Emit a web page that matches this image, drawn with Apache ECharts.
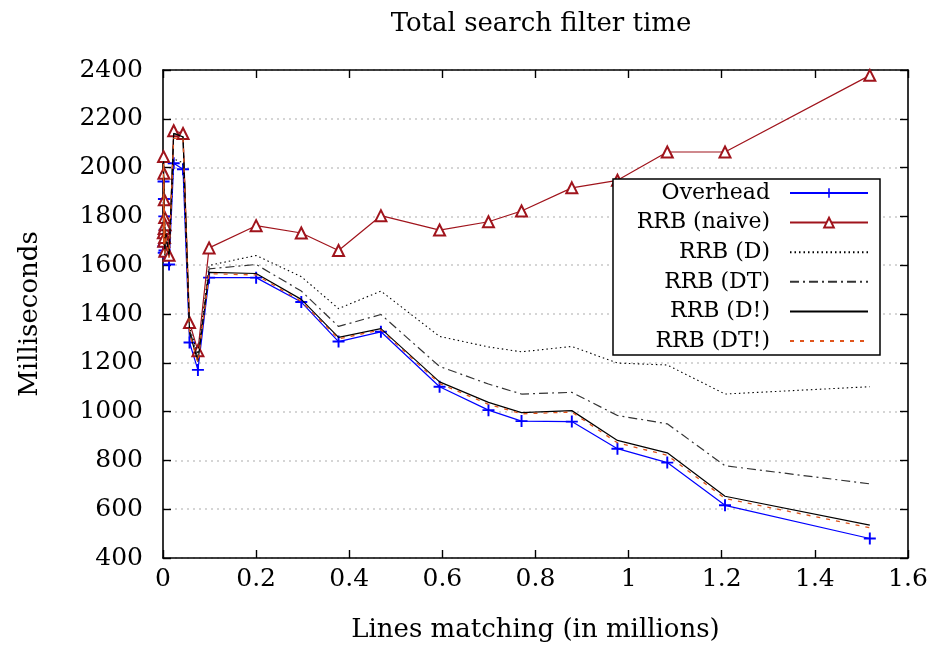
<!DOCTYPE html>
<html>
<head>
<meta charset="utf-8">
<script src="https://cdn.jsdelivr.net/npm/echarts@6/dist/echarts.min.js"></script>
<style>html,body{margin:0;padding:0;background:#fff}#c{width:938px;height:648px}</style>
</head>
<body>
<div id="c"></div>
<script>
// Lines matching (millions)
const xs = [0.0008, 0.0012, 0.0016, 0.002, 0.0024, 0.0028, 0.0032, 0.0036, 0.004, 0.0045,
  0.013, 0.023, 0.043, 0.057, 0.075, 0.099, 0.2, 0.297, 0.377, 0.468,
  0.594, 0.699, 0.770, 0.878, 0.976, 1.083, 1.207, 1.518];
const overhead = [1678, 1943, 1651, 1871, 1687, 1800, 1660, 1745, 1640, 1712,
  1603, 2018, 1993, 1283, 1171, 1549, 1549, 1449, 1287, 1327,
  1102, 1006, 961, 959, 848, 791, 616, 480];
const rrbNaive = [1733, 2045, 1698, 1977, 1750, 1868, 1714, 1796, 1657, 1766,
  1641, 2151, 2140, 1365, 1249, 1671, 1762, 1732, 1660, 1803,
  1744, 1778, 1822, 1917, 1948, 2064, 2064, 2378];
const rrbD = [1725, 2030, 1690, 1965, 1740, 1858, 1705, 1786, 1650, 1756,
  1645, 2035, 2020, 1345, 1235, 1599, 1640, 1553, 1422, 1494,
  1308, 1265, 1245, 1267, 1199, 1191, 1072, 1102];
const rrbDT = [1720, 2028, 1686, 1960, 1736, 1852, 1700, 1780, 1645, 1750,
  1640, 2140, 2130, 1335, 1220, 1585, 1603, 1494, 1349, 1398,
  1185, 1113, 1072, 1079, 984, 950, 778, 704];
const rrbD1 = [1716, 2024, 1682, 1955, 1732, 1848, 1696, 1776, 1640, 1746,
  1635, 2140, 2126, 1325, 1205, 1571, 1566, 1460, 1304, 1340,
  1122, 1038, 996, 1004, 882, 831, 653, 535];
const rrbDT1 = [1712, 2020, 1678, 1950, 1728, 1844, 1692, 1772, 1636, 1742,
  1630, 2120, 2121, 1320, 1200, 1565, 1560, 1452, 1298, 1335,
  1115, 1030, 991, 998, 872, 821, 644, 524];
const seriesNames = ['Overhead', 'RRB (naive)', 'RRB (D)', 'RRB (DT)', 'RRB (D!)', 'RRB (DT!)'];
const xTicks = [0, 0.2, 0.4, 0.6, 0.8, 1, 1.2, 1.4, 1.6];
const yTicks = [400, 600, 800, 1000, 1200, 1400, 1600, 1800, 2000, 2200, 2400];

const zip = v => xs.map((x, i) => [x, v[i]]);
const FONT = 'DejaVu Serif';
const plus = 'path://M4.2,0 H5.8 V4.2 H10 V5.8 H5.8 V10 H4.2 V5.8 H0 V4.2 H4.2 Z';

const chart = echarts.init(document.getElementById('c'), null, {renderer: 'canvas'});
const axisCommon = {
  axisLine: {show: true, onZero: false, lineStyle: {color: '#000', width: 1.6}},
  axisTick: {show: true, inside: true, length: 8, lineStyle: {color: '#000', width: 1.4}},
  splitLine: {show: false}
};
const legendData = seriesNames.map((n, i) => i < 2 ? {name: n} : {name: n, itemStyle: {opacity: 0}});
chart.setOption({
  animation: false,
  backgroundColor: '#fff',
  title: {
    text: 'Total search filter time', left: 536, top: 6, textAlign: 'center',
    textStyle: {fontFamily: FONT, fontSize: 26, fontWeight: 'normal', color: '#000'}
  },
  grid: {left: 163, right: 30, top: 70, bottom: 88, containLabel: false},
  legend: {
    orient: 'vertical', left: 613, top: 179, align: 'right',
    data: legendData,
    itemWidth: 78, itemHeight: 12, itemGap: 5.6,
    padding: [2, 11, 2, 7],
    borderColor: '#000', borderWidth: 1.5, backgroundColor: '#fff',
    textStyle: {fontFamily: FONT, fontSize: 22, color: '#000', width: 150, align: 'right', lineHeight: 24, padding: [0, 15, 0, 0], overflow: 'none'}
  },
  xAxis: [
    Object.assign({}, axisCommon, {
      type: 'value', position: 'bottom', min: 0, max: 1.6, interval: 0.2,
      name: 'Lines matching (in millions)', nameLocation: 'middle', nameGap: 59,
      nameTextStyle: {fontFamily: FONT, fontSize: 26, color: '#000'},
      axisLabel: {fontFamily: FONT, fontSize: 25, color: '#000', margin: 9,
        formatter: v => String(+v.toFixed(1))}
    }),
    Object.assign({}, axisCommon, {
      type: 'value', position: 'top', min: 0, max: 1.6, interval: 0.2,
      axisLabel: {show: false}
    })
  ],
  yAxis: [
    Object.assign({}, axisCommon, {
      type: 'value', position: 'left', min: 400, max: 2400, interval: 200,
      name: 'Milliseconds', nameLocation: 'middle', nameGap: 120,
      nameTextStyle: {fontFamily: FONT, fontSize: 26, color: '#000'},
      axisLabel: {fontFamily: FONT, fontSize: 25, color: '#000', margin: 20,
        formatter: v => String(v)},
      splitLine: {show: true, lineStyle: {color: '#c8c8c8', width: 1.5, type: [2, 4]}}
    }),
    Object.assign({}, axisCommon, {
      type: 'value', position: 'right', min: 400, max: 2400, interval: 200,
      axisLabel: {show: false}
    })
  ],
  series: [
    {name: seriesNames[0], type: 'line', data: zip(overhead), symbol: plus, symbolSize: 12,
      showSymbol: true, color: '#0000ff', lineStyle: {color: '#0000ff', width: 1.2},
      itemStyle: {color: '#0000ff'}, z: 2},
    {name: seriesNames[1], type: 'line', data: zip(rrbNaive), symbol: 'emptyTriangle', symbolSize: 11,
      showSymbol: true, color: '#a0141c', lineStyle: {color: '#a0141c', width: 1.2},
      itemStyle: {color: '#a0141c', borderColor: '#a0141c', borderWidth: 1.4}, z: 3},
    {name: seriesNames[2], type: 'line', data: zip(rrbD), symbol: 'none', color: '#000',
      lineStyle: {color: '#000', width: 1.1, type: [1.5, 3]}, z: 4},
    {name: seriesNames[3], type: 'line', data: zip(rrbDT), symbol: 'none', color: '#333',
      lineStyle: {color: '#333', width: 1.2, type: [9, 4, 2, 4]}, z: 5},
    {name: seriesNames[4], type: 'line', data: zip(rrbD1), symbol: 'none', color: '#000',
      lineStyle: {color: '#000', width: 1.2}, z: 6},
    {name: seriesNames[5], type: 'line', data: zip(rrbDT1), symbol: 'none', color: '#e0541c',
      lineStyle: {color: '#e0541c', width: 1.3, type: [4, 6]}, z: 7}
  ]
});
</script>
</body>
</html>
